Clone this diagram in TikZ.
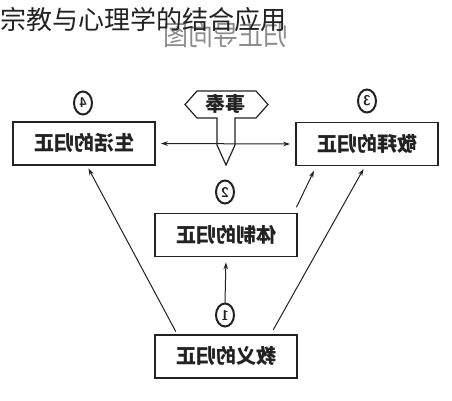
\documentclass[tikz,border=0pt]{standalone}
\usepackage{fontspec}
\usepackage{graphicx}
\newfontfamily\cjk{Noto Sans CJK SC}
\usetikzlibrary{arrows.meta,shapes.geometric,calc}
\definecolor{ink}{HTML}{222222}
\tikzset{
  box/.style={draw=ink, line width=1.6pt, minimum width=142pt, minimum height=43pt, inner sep=0pt, font=\cjk\bfseries\fontsize{20}{20}\selectfont, text=ink},
  num/.style={draw=ink, ellipse, line width=2pt, minimum width=18pt, minimum height=23pt, inner sep=0pt, font=\sffamily\bfseries\fontsize{14}{14}\selectfont, text=ink},
  conn/.style={draw=ink, line width=1pt, -{Stealth[length=7pt,width=4.5pt]}},
}
\begin{document}
\begin{tikzpicture}[x=1pt,y=-1pt]
\useasboundingbox (0,0) rectangle (452,400);
\fill[white] (0,0) rectangle (452,400);
% gray mirrored caption behind title
\node[text=black!45, font=\cjk\fontsize{25}{25}\selectfont, inner sep=0pt, yscale=1.1] (cap) at (226,35) {\reflectbox{归正导向图}};
\node[anchor=west, inner sep=0pt, text=ink, font=\cjk\fontsize{26}{26}\selectfont] (title) at (0,20) {宗教与心理学的结合应用};
% boxes
\node[box] (life) at (84,143.5) {\reflectbox{生活的归正}};
\node[box] (worship) at (367,144) {\reflectbox{敬拜的归正}};
\node[box] (system) at (226,235) {\reflectbox{体制的归正}};
\node[box] (doctrine) at (226,356.5) {\reflectbox{教义的归正}};
% numbers
\node[num] (n4) at (83,103) {\reflectbox{4}};
\node[num] (n3) at (367,101) {\reflectbox{3}};
\node[num] (n2) at (225,192) {\reflectbox{2}};
\node[num] (n1) at (225,315) {\reflectbox{1}};
% signpost
\draw[ink, line width=1.2pt, line join=miter] (185,104.5) -- (197,91) -- (256,91) -- (268,104.5) -- (256,118) -- (235,118) -- (235,145) -- (226,165) -- (217,145) -- (217,118) -- (197,118) -- cycle;
\node[font=\cjk\bfseries\fontsize{20}{20}\selectfont, text=ink, inner sep=0pt] (serve) at (225,104) {\reflectbox{事奉}};
% connectors
\draw[conn, {Stealth[length=7pt,width=4.5pt]}-{Stealth[length=7pt,width=4.5pt]}, shorten <=5pt, shorten >=5pt] (life.east) -- (worship.west);
\draw[conn, shorten <=3pt, shorten >=3pt] ($(doctrine.north west)+(23,0)$) -- ($(life.south)+(3,0)$);
\draw[conn, shorten <=5pt, shorten >=3pt] ($(doctrine.north east)+(-27,0)$) -- ($(worship.south)+(-2,0)$);
\draw[conn, shorten <=6pt, shorten >=5pt] ($(system.north east)+(-4,0)$) -- ($(worship.south west)+(21,0)$);
\draw[conn, shorten >=5pt] (n1.north) -- (system.south);
\end{tikzpicture}
\end{document}
